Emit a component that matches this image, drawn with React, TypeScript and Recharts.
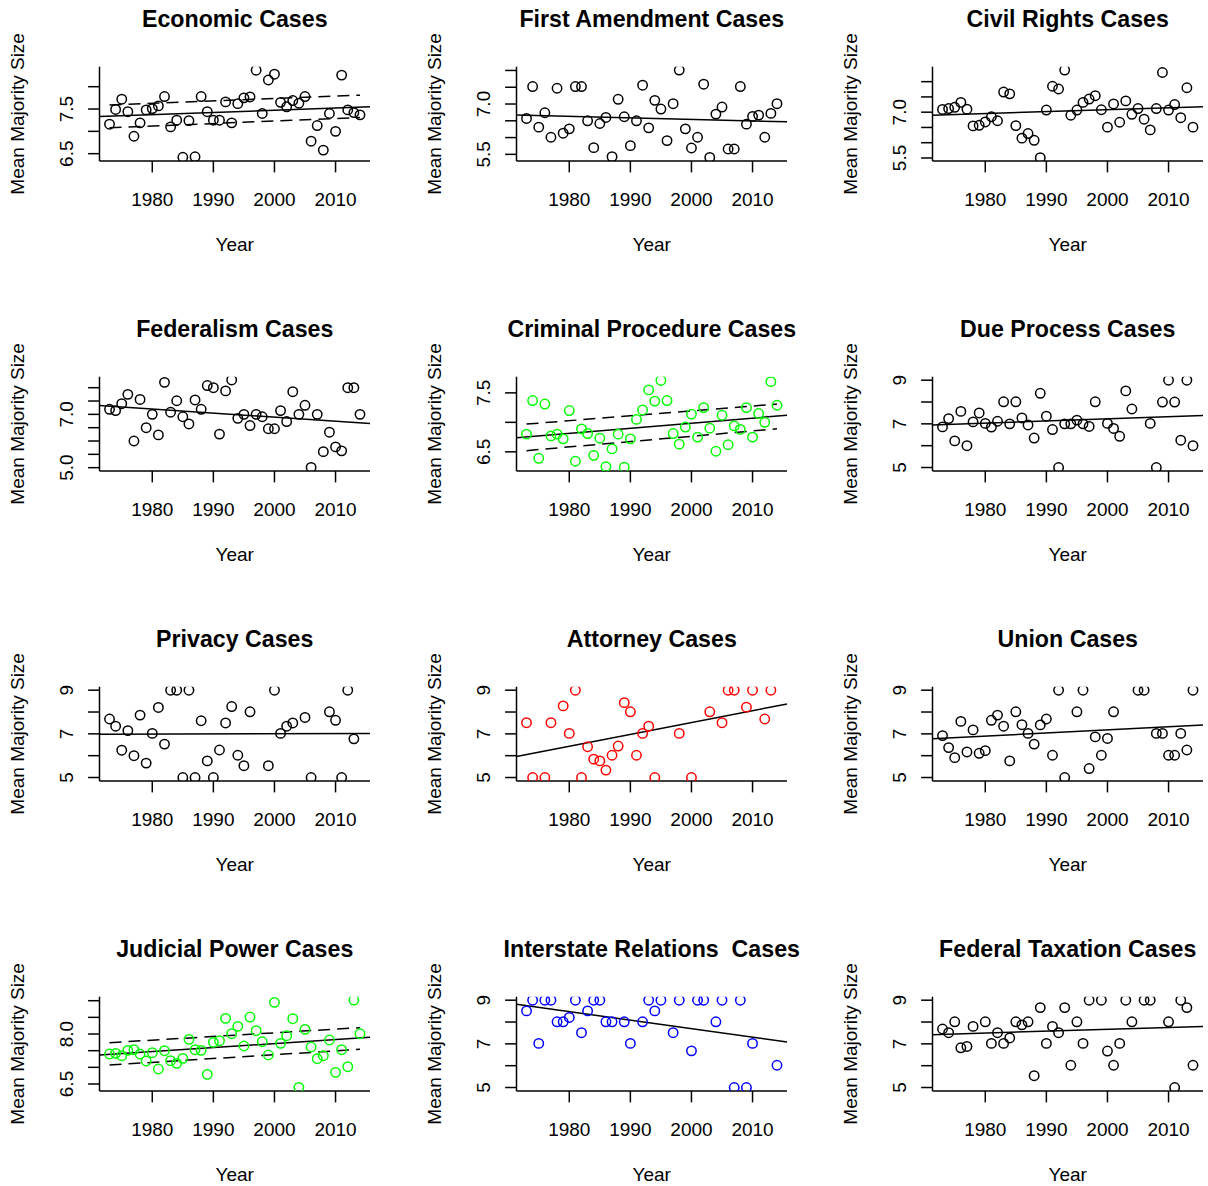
import React from 'react';
import { ComposedChart, Scatter, XAxis, YAxis, ReferenceLine } from 'recharts';

const FONT = '"Liberation Sans", Arial, Helvetica, sans-serif';

// ---------- shared axis data ----------
const XLIM = [1971.36, 2015.64];
const X_TICKS = [1980, 1990, 2000, 2010];
const YEARS_FULL = [1973, 1974, 1975, 1976, 1977, 1978, 1979, 1980, 1981, 1982, 1983, 1984, 1985, 1986, 1987, 1988, 1989, 1990, 1991, 1992, 1993, 1994, 1995, 1996, 1997, 1998, 1999, 2000, 2001, 2002, 2003, 2004, 2005, 2006, 2007, 2008, 2009, 2010, 2011, 2012, 2013, 2014];
const SPAN_YEARS = [1973, 2014];
const TICKS_5_9 = [5, 6, 7, 8, 9];
const LABELS_5_9 = ['5', '', '7', '', '9'];
const DOMAIN_5_9 = [4.84, 9.16];

// ---------- Economic ----------
const econValues = [7.16, 7.49, 7.72, 7.44, 6.89, 7.19, 7.48, 7.51, 7.57, 7.78, 7.10, 7.25, 6.42, 7.24, 6.43, 7.78, 7.44, 7.25, 7.25, 7.66, 7.19, 7.62, 7.75, 7.77, 8.37, 7.40, 8.15, 8.28, 7.65, 7.55, 7.69, 7.63, 7.78, 6.78, 7.13, 6.58, 7.40, 7.00, 8.26, 7.48, 7.42, 7.37];
const econFit = [7.33, 7.55];
const econUpper = [7.59, 7.81];
const econLower = [7.08, 7.31];
const econTicks = [6.5, 7.0, 7.5, 8.0];
const econTickLabels = ['6.5', '', '7.5', ''];
const econDomain = [6.336, 8.448];

// ---------- First Amendment ----------
const firstValues = [6.57, 7.52, 6.31, 6.74, 6.01, 7.47, 6.13, 6.26, 7.52, 7.52, 6.50, 5.70, 6.42, 6.60, 5.43, 7.14, 6.62, 5.76, 6.50, 7.56, 6.29, 7.11, 6.85, 5.91, 7.01, 8.01, 6.26, 5.69, 6.01, 7.59, 5.41, 6.70, 6.91, 5.66, 5.66, 7.52, 6.40, 6.63, 6.67, 6.01, 6.72, 7.01];
const firstFit = [6.67, 6.47];
const firstTicks = [5.5, 6.0, 6.5, 7.0, 7.5, 8.0];
const firstTickLabels = ['5.5', '', '', '7.0', '', ''];
const firstDomain = [5.302, 8.112];

// ---------- Civil Rights ----------
const civilValues = [7.09, 7.12, 7.16, 7.32, 7.10, 6.55, 6.57, 6.68, 6.85, 6.72, 7.66, 7.60, 6.56, 6.15, 6.30, 6.08, 5.51, 7.07, 7.85, 7.76, 8.38, 6.90, 7.07, 7.32, 7.43, 7.54, 7.08, 6.51, 7.27, 6.67, 7.37, 6.93, 7.12, 6.77, 6.42, 7.12, 8.30, 7.07, 7.25, 6.82, 7.80, 6.51];
const civilFit = [6.90, 7.18];
const civilTicks = [5.5, 6.0, 6.5, 7.0, 7.5, 8.0];
const civilTickLabels = ['5.5', '', '', '7.0', '', ''];
const civilDomain = [5.401, 8.490];

// ---------- Federalism ----------
const fedValues = [7.19, 7.14, 7.40, 7.75, 6.00, 7.56, 6.50, 7.00, 6.23, 8.20, 7.08, 7.51, 6.91, 6.64, 7.54, 7.19, 8.08, 8.00, 6.26, 7.88, 8.29, 6.85, 7.00, 6.58, 7.00, 6.91, 6.46, 6.46, 7.14, 6.73, 7.85, 7.00, 7.34, 5.01, 7.00, 5.60, 6.33, 5.78, 5.63, 8.00, 8.00, 7.00];
const fedFit = [7.33, 6.66];
const fedTicks = [5.0, 5.5, 6.0, 6.5, 7.0, 7.5, 8.0];
const fedTickLabels = ['5.0', '', '', '', '7.0', '', ''];
const fedDomain = [4.875, 8.4125];

// ---------- Criminal Procedure ----------
const crimValues = [6.80, 7.37, 6.39, 7.31, 6.77, 6.80, 6.72, 7.20, 6.34, 6.89, 6.81, 6.44, 6.73, 6.25, 6.55, 6.80, 6.24, 6.72, 7.05, 7.21, 7.55, 7.36, 7.71, 7.37, 6.81, 6.63, 6.92, 7.14, 6.75, 7.25, 6.90, 6.51, 7.12, 6.62, 6.94, 6.88, 7.25, 6.75, 7.15, 7.00, 7.69, 7.29];
const crimFit = [6.74, 7.12];
const crimUpper = [6.97, 7.31];
const crimLower = [6.52, 6.89];
const crimTicks = [6.5, 7.0, 7.5];
const crimTickLabels = ['6.5', '', '7.5'];
const crimDomain = [6.175, 7.774];

// ---------- Due Process ----------
const dueYears = [1973, 1974, 1975, 1976, 1977, 1978, 1979, 1980, 1981, 1982, 1983, 1984, 1985, 1986, 1987, 1988, 1989, 1990, 1991, 1992, 1993, 1994, 1995, 1996, 1997, 1998, 2000, 2001, 2002, 2003, 2004, 2007, 2008, 2009, 2010, 2011, 2012, 2013, 2014];
const dueValues = [6.86, 7.24, 6.22, 7.57, 6.00, 7.09, 7.50, 7.02, 6.85, 7.12, 8.01, 7.00, 8.01, 7.27, 6.95, 6.35, 8.40, 7.35, 6.74, 5.00, 7.00, 7.00, 7.17, 7.00, 6.88, 8.01, 7.02, 6.79, 6.43, 8.51, 7.68, 7.02, 5.00, 8.00, 9.00, 8.00, 6.25, 9.00, 6.00];
const dueFit = [6.95, 7.38];

// ---------- Privacy ----------
const privYears = [1973, 1974, 1975, 1976, 1977, 1978, 1979, 1980, 1981, 1982, 1983, 1984, 1985, 1986, 1987, 1988, 1989, 1990, 1991, 1992, 1993, 1994, 1995, 1996, 1999, 2000, 2001, 2002, 2003, 2005, 2006, 2009, 2010, 2011, 2012, 2013];
const privValues = [7.68, 7.35, 6.25, 7.15, 6.00, 7.86, 5.66, 7.02, 8.21, 6.53, 9.00, 9.00, 5.00, 9.00, 5.00, 7.60, 5.76, 5.00, 6.26, 7.50, 8.25, 6.02, 5.54, 8.01, 5.54, 9.00, 7.02, 7.35, 7.50, 7.75, 5.00, 8.01, 7.62, 5.00, 9.00, 6.77];
const privFit = [6.98, 7.02];

// ---------- Attorney ----------
const attYears = [1973, 1974, 1976, 1977, 1979, 1980, 1981, 1982, 1983, 1984, 1985, 1986, 1987, 1988, 1989, 1990, 1991, 1992, 1993, 1994, 1998, 2000, 2003, 2005, 2006, 2007, 2009, 2010, 2012, 2013];
const attValues = [7.51, 5.00, 5.00, 7.51, 8.28, 7.02, 9.00, 5.00, 6.41, 5.84, 5.76, 5.34, 6.02, 6.44, 8.43, 8.01, 6.02, 7.02, 7.35, 5.00, 7.02, 5.00, 8.01, 7.51, 9.00, 9.00, 8.22, 9.00, 7.68, 9.00];
const attFit = [5.96, 8.37];

// ---------- Union ----------
const unionYears = [1973, 1974, 1975, 1976, 1977, 1978, 1979, 1980, 1981, 1982, 1983, 1984, 1985, 1986, 1987, 1988, 1989, 1990, 1991, 1992, 1993, 1995, 1996, 1997, 1998, 1999, 2000, 2001, 2005, 2006, 2008, 2009, 2010, 2011, 2012, 2013, 2014];
const unionValues = [6.92, 6.37, 5.91, 7.57, 6.17, 7.18, 6.11, 6.23, 7.62, 7.86, 7.35, 5.76, 8.01, 7.42, 7.02, 6.53, 7.41, 7.68, 6.02, 9.00, 5.00, 8.01, 9.00, 5.41, 6.86, 6.02, 6.79, 8.01, 9.00, 9.00, 7.02, 7.02, 6.02, 6.02, 7.02, 6.26, 9.00];
const unionFit = [6.77, 7.41];

// ---------- Judicial Power ----------
const judValues = [7.40, 7.42, 7.35, 7.51, 7.53, 7.40, 7.19, 7.44, 6.95, 7.50, 7.20, 7.12, 7.27, 7.84, 7.53, 7.51, 6.79, 7.75, 7.80, 8.47, 8.01, 8.23, 7.64, 8.51, 8.10, 7.77, 7.37, 8.95, 7.72, 7.95, 8.46, 6.40, 8.14, 7.61, 7.26, 7.35, 7.82, 6.85, 7.53, 7.02, 9.02, 8.01];
const judFit = [7.37, 7.90];
const judUpper = [7.74, 8.19];
const judLower = [7.07, 7.54];
const judTicks = [6.5, 7.0, 7.5, 8.0, 8.5, 9.0];
const judTickLabels = ['6.5', '', '', '8.0', '', ''];
const judDomain = [6.29, 9.12];

// ---------- Interstate Relations ----------
const interYears = [1973, 1974, 1975, 1976, 1977, 1978, 1979, 1980, 1981, 1982, 1983, 1984, 1985, 1986, 1987, 1989, 1990, 1992, 1993, 1994, 1995, 1997, 1998, 2000, 2001, 2002, 2004, 2005, 2007, 2008, 2009, 2010, 2014];
const interValues = [8.51, 9.00, 7.02, 9.00, 9.00, 8.01, 8.01, 8.21, 9.00, 7.51, 8.51, 9.00, 9.00, 8.01, 8.01, 8.01, 7.02, 8.01, 9.00, 8.51, 9.00, 7.51, 9.00, 6.68, 9.00, 9.00, 8.01, 9.00, 5.00, 9.00, 5.00, 7.02, 6.02];
const interFit = [8.81, 7.09];

// ---------- Federal Taxation ----------
const taxYears = [1973, 1974, 1975, 1976, 1977, 1978, 1980, 1981, 1982, 1983, 1984, 1985, 1986, 1987, 1988, 1989, 1990, 1991, 1992, 1993, 1994, 1995, 1996, 1997, 1999, 2000, 2001, 2002, 2003, 2004, 2006, 2007, 2010, 2011, 2012, 2013, 2014];
const taxValues = [7.68, 7.51, 8.01, 6.82, 6.88, 7.80, 8.01, 7.02, 7.51, 7.02, 7.27, 8.01, 7.87, 8.01, 5.54, 8.66, 7.02, 7.80, 7.51, 8.66, 6.02, 8.01, 7.02, 9.00, 9.00, 6.67, 6.02, 7.02, 9.00, 8.01, 9.00, 9.00, 8.01, 5.00, 9.00, 8.66, 6.02];
const taxFit = [7.42, 7.80];

type PanelDef = {
  title: string;
  years: number[];
  values: number[];
  color: string;
  domain: number[];
  ticks: number[];
  tickLabels: string[];
  fit: number[];
  upper?: number[];
  lower?: number[];
};

const PANELS: PanelDef[] = [
  { title: 'Economic Cases', years: YEARS_FULL, values: econValues, color: '#000000', domain: econDomain, ticks: econTicks, tickLabels: econTickLabels, fit: econFit, upper: econUpper, lower: econLower },
  { title: 'First Amendment Cases', years: YEARS_FULL, values: firstValues, color: '#000000', domain: firstDomain, ticks: firstTicks, tickLabels: firstTickLabels, fit: firstFit },
  { title: 'Civil Rights Cases', years: YEARS_FULL, values: civilValues, color: '#000000', domain: civilDomain, ticks: civilTicks, tickLabels: civilTickLabels, fit: civilFit },
  { title: 'Federalism Cases', years: YEARS_FULL, values: fedValues, color: '#000000', domain: fedDomain, ticks: fedTicks, tickLabels: fedTickLabels, fit: fedFit },
  { title: 'Criminal Procedure Cases', years: YEARS_FULL, values: crimValues, color: '#00ff00', domain: crimDomain, ticks: crimTicks, tickLabels: crimTickLabels, fit: crimFit, upper: crimUpper, lower: crimLower },
  { title: 'Due Process Cases', years: dueYears, values: dueValues, color: '#000000', domain: DOMAIN_5_9, ticks: TICKS_5_9, tickLabels: LABELS_5_9, fit: dueFit },
  { title: 'Privacy Cases', years: privYears, values: privValues, color: '#000000', domain: DOMAIN_5_9, ticks: TICKS_5_9, tickLabels: LABELS_5_9, fit: privFit },
  { title: 'Attorney Cases', years: attYears, values: attValues, color: '#ff0000', domain: DOMAIN_5_9, ticks: TICKS_5_9, tickLabels: LABELS_5_9, fit: attFit },
  { title: 'Union Cases', years: unionYears, values: unionValues, color: '#000000', domain: DOMAIN_5_9, ticks: TICKS_5_9, tickLabels: LABELS_5_9, fit: unionFit },
  { title: 'Judicial Power Cases', years: YEARS_FULL, values: judValues, color: '#00ff00', domain: judDomain, ticks: judTicks, tickLabels: judTickLabels, fit: judFit, upper: judUpper, lower: judLower },
  { title: 'Interstate Relations  Cases', years: interYears, values: interValues, color: '#0000ff', domain: DOMAIN_5_9, ticks: TICKS_5_9, tickLabels: LABELS_5_9, fit: interFit },
  { title: 'Federal Taxation Cases', years: taxYears, values: taxValues, color: '#000000', domain: DOMAIN_5_9, ticks: TICKS_5_9, tickLabels: LABELS_5_9, fit: taxFit },
];

const PANEL_W = 416;
const PANEL_H = 310;
const COL_X = [0, 416.5, 833];
const ROW_Y = [0, 310, 620, 930];
const M_LEFT_AXIS = 99.5;
const M_RIGHT = 46;
const M_TOP = 66.7;
const X_AXIS_H = 60;
const M_BOTTOM = 89;
const LW = 1.5;
const FS = 19;

function Panel({ p, left, top }: { p: PanelDef; left: number; top: number }) {
  const data = p.years.map((y, i) => ({ year: y, v: p.values[i] }));
  const boxCx = M_LEFT_AXIS + (PANEL_W - M_LEFT_AXIS - M_RIGHT) / 2;
  const boxCy = M_TOP + (PANEL_H - M_TOP - M_BOTTOM - X_AXIS_H) / 2;
  const yTick = (props: any) => {
    const { x, y, payload } = props;
    const idx = p.ticks.indexOf(payload.value);
    const lab = idx >= 0 ? p.tickLabels[idx] : '';
    if (!lab) return <g />;
    return (
      <text x={0} y={0} transform={`translate(${x},${y}) rotate(-90)`} textAnchor="middle" fontSize={FS} fontFamily={FONT} fill="#000">
        {lab}
      </text>
    );
  };
  const xTick = (props: any) => {
    const { x, y, payload } = props;
    return (
      <text x={x} y={y} textAnchor="middle" fontSize={FS} fontFamily={FONT} fill="#000">
        {payload.value}
      </text>
    );
  };
  const shape = (props: any) => (
    <circle cx={props.cx} cy={props.cy} r={4.7} fill="none" stroke={p.color} strokeWidth={1.5} />
  );
  const axisStyle = { stroke: '#000', strokeWidth: LW };
  return (
    <div style={{ position: 'absolute', left, top, width: PANEL_W, height: PANEL_H }}>
      <ComposedChart width={PANEL_W} height={PANEL_H} data={data} margin={{ top: M_TOP, right: M_RIGHT, bottom: M_BOTTOM, left: 0 }}>
        <XAxis xAxisId="b" dataKey="year" type="number" domain={XLIM} ticks={X_TICKS} allowDataOverflow interval={0}
          height={X_AXIS_H} tickSize={11.4} tickMargin={33.3} axisLine={axisStyle} tickLine={axisStyle} tick={xTick} />
        <XAxis xAxisId="t" orientation="top" type="number" domain={XLIM} allowDataOverflow height={0}
          tick={false} tickLine={false} axisLine={axisStyle} />
        <YAxis yAxisId="l" dataKey="v" type="number" domain={p.domain} ticks={p.ticks} allowDataOverflow interval={0}
          width={M_LEFT_AXIS} tickSize={11.4} tickMargin={15.3} axisLine={axisStyle} tickLine={axisStyle} tick={yTick} />
        <YAxis yAxisId="r" orientation="right" type="number" domain={p.domain} allowDataOverflow width={0}
          tick={false} tickLine={false} axisLine={axisStyle} />
        <Scatter xAxisId="b" yAxisId="l" data={data} dataKey="v" shape={shape} isAnimationActive={false} />
        <ReferenceLine xAxisId="b" yAxisId="l" ifOverflow="visible" stroke="#000" strokeWidth={LW}
          segment={[{ x: XLIM[0], y: p.fit[0] }, { x: XLIM[1], y: p.fit[1] }]} />
        {p.upper && (
          <ReferenceLine xAxisId="b" yAxisId="l" ifOverflow="visible" stroke="#000" strokeWidth={LW} strokeDasharray="12 7"
            segment={[{ x: SPAN_YEARS[0], y: p.upper[0] }, { x: SPAN_YEARS[1], y: p.upper[1] }]} />
        )}
        {p.lower && (
          <ReferenceLine xAxisId="b" yAxisId="l" ifOverflow="visible" stroke="#000" strokeWidth={LW} strokeDasharray="12 7"
            segment={[{ x: SPAN_YEARS[0], y: p.lower[0] }, { x: SPAN_YEARS[1], y: p.lower[1] }]} />
        )}
      </ComposedChart>
      <svg width={PANEL_W} height={PANEL_H} style={{ position: 'absolute', left: 0, top: 0, pointerEvents: 'none' }}>
        <text x={boxCx} y={27.4} textAnchor="middle" fontSize={23.2} fontWeight="bold" fontFamily={FONT} fill="#000" style={{ whiteSpace: 'pre' }}>
          {p.title}
        </text>
        <text x={boxCx} y={251} textAnchor="middle" fontSize={FS} fontFamily={FONT} fill="#000">Year</text>
        <text x={0} y={0} transform={`translate(24,${boxCy}) rotate(-90)`} textAnchor="middle" fontSize={FS} fontFamily={FONT} fill="#000">
          Mean Majority Size
        </text>
      </svg>
    </div>
  );
}

export default function App() {
  return (
    <div style={{ position: 'absolute', left: 0, top: 0, width: 1208, height: 1186, background: '#fff', overflow: 'hidden' }}>
      {PANELS.map((p, i) => (
        <Panel key={p.title} p={p} left={COL_X[i % 3]} top={ROW_Y[Math.floor(i / 3)]} />
      ))}
    </div>
  );
}
